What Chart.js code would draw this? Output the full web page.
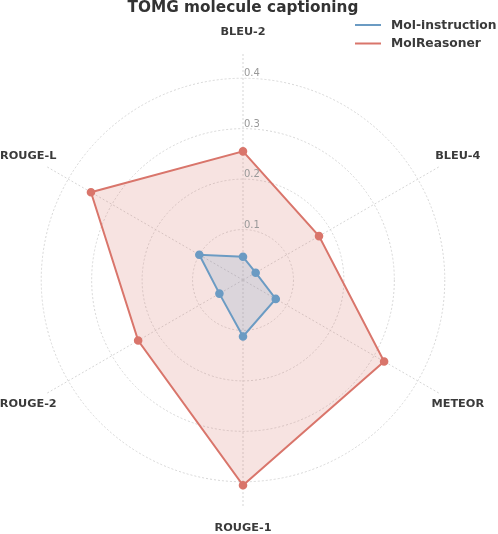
<!DOCTYPE html>
<html>
<head>
<meta charset="utf-8">
<script src="https://cdn.jsdelivr.net/npm/chart.js@4"></script>
<style>
  html, body { margin: 0; padding: 0; background: #ffffff; }
  #wrap { width: 498px; height: 534px; }
</style>
</head>
<body>
<div id="wrap"><canvas id="myChart" width="498" height="534"></canvas></div>
<script>
/* DATOS */
const metricas = ["BLEU-2", "BLEU-4", "METEOR", "ROUGE-1", "ROUGE-2", "ROUGE-L"]
const molInstruction = [0.046, 0.029, 0.075, 0.112, 0.054, 0.100]
const molReasoner = [0.255, 0.174, 0.323, 0.407, 0.240, 0.348]
const tickLabels = [0.1, 0.2, 0.3, 0.4]
const escalaMax = 0.45

const azul = "#6b9bc3"
const rojo = "#d9756b"
const fuente = "'DejaVu Sans', sans-serif"

/* PLUGIN: etiquetas de ejes, ticks y leyenda */
const extras = {
    id: "extras",
    afterDatasetsDraw(chart) {
        const ctx = chart.ctx
        const r = chart.scales.r
        ctx.save()

        // valores de los anillos
        ctx.font = "10px " + fuente
        ctx.fillStyle = "#999999"
        ctx.textAlign = "left"
        ctx.textBaseline = "alphabetic"
        tickLabels.forEach((v) => {
            const d = r.getDistanceFromCenterForValue(v)
            ctx.fillText(v.toFixed(1), r.xCenter + 1, r.yCenter - d - 2)
        })

        // nombres de las metricas
        ctx.font = "bold 11.3px " + fuente
        ctx.fillStyle = "#3a3a3a"
        ctx.textAlign = "center"
        ctx.textBaseline = "middle"
        metricas.forEach((m, i) => {
            const p = r.getPointPosition(i, r.drawingArea + 21)
            ctx.fillText(m, p.x, p.y)
        })

        // leyenda
        ctx.font = "bold 12.3px " + fuente
        ctx.textAlign = "left"
        chart.data.datasets.forEach((ds, i) => {
            const y = 25 + i * 18.5
            ctx.strokeStyle = ds.borderColor
            ctx.lineWidth = 2
            ctx.beginPath()
            ctx.moveTo(355, y)
            ctx.lineTo(381, y)
            ctx.stroke()
            ctx.fillStyle = "#3a3a3a"
            ctx.fillText(ds.label, 391, y + 0.5)
        })
        ctx.restore()
    }
}

/* GRAFICO */
const config = {
    type: "radar",
    data: {
        labels: metricas,
        datasets: [
            {
                label: "Mol-instruction",
                data: molInstruction,
                borderColor: azul,
                backgroundColor: "rgba(107, 155, 195, 0.2)",
                pointBackgroundColor: azul,
                pointBorderColor: azul,
                borderWidth: 2,
                pointRadius: 3.3,
                fill: true
            },
            {
                label: "MolReasoner",
                data: molReasoner,
                borderColor: rojo,
                backgroundColor: "rgba(217, 117, 107, 0.2)",
                pointBackgroundColor: rojo,
                pointBorderColor: rojo,
                borderWidth: 2,
                pointRadius: 3.3,
                fill: true
            }
        ]
    },
    options: {
        responsive: false,
        animation: false,
        layout: { padding: { top: 0, left: 16, right: 28, bottom: 26 } },
        elements: { line: { tension: 0 } },
        plugins: {
            legend: { display: false },
            tooltip: { enabled: false },
            title: {
                display: true,
                text: "TOMG molecule captioning",
                color: "#333333",
                font: { family: fuente, size: 15.3, weight: "bold", lineHeight: 1 },
                padding: { top: 0, bottom: 37 }
            }
        },
        scales: {
            r: {
                min: 0,
                max: escalaMax,
                ticks: { stepSize: 0.1, display: false },
                pointLabels: { display: false },
                grid: {
                    circular: true,
                    lineWidth: 1,
                    color: (c) => (c.tick && c.tick.value > 0.41 ? "transparent" : "#d6d6d6")
                },
                border: { dash: [2, 2] },
                angleLines: { color: "#d6d6d6", lineWidth: 1, borderDash: [2, 2] }
            }
        }
    },
    plugins: [extras]
}

new Chart(document.querySelector("#myChart"), config)
</script>
</body>
</html>
